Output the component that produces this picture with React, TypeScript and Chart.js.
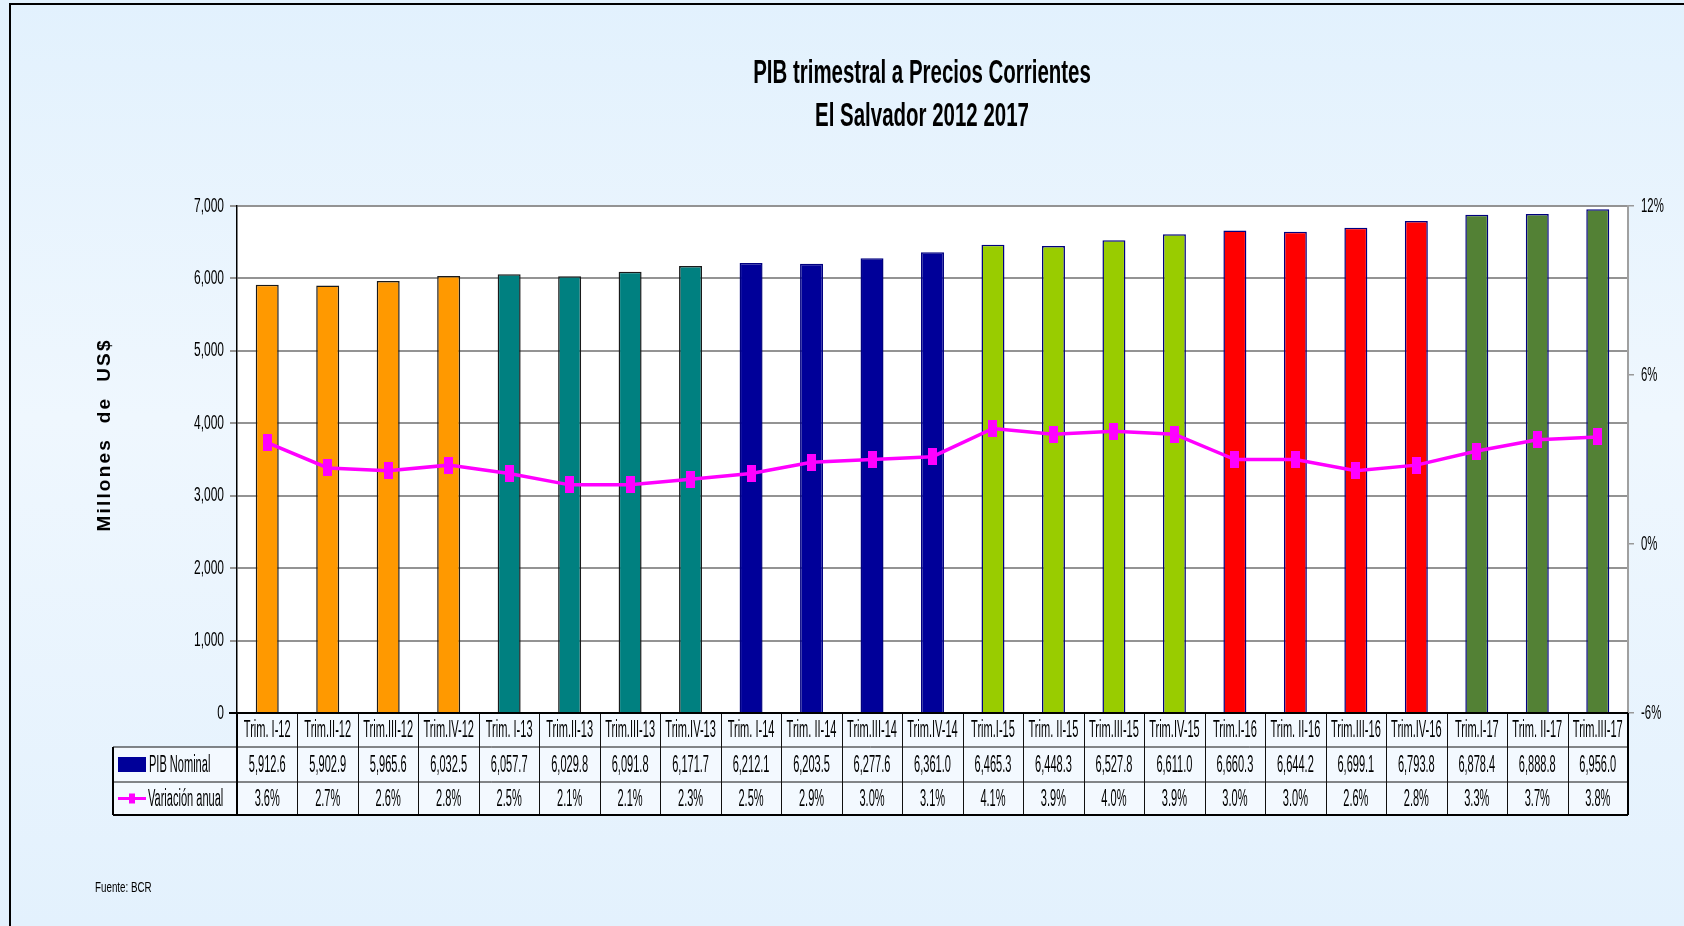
import React, { useEffect, useRef } from "react";
import { Chart, registerables } from "chart.js";

Chart.register(...registerables);

const categories = [
  "Trim. I-12", "Trim.II-12", "Trim.III-12", "Trim.IV-12",
  "Trim. I-13", "Trim.II-13", "Trim.III-13", "Trim.IV-13",
  "Trim. I-14", "Trim. II-14", "Trim.III-14", "Trim.IV-14",
  "Trim.I-15", "Trim. II-15", "Trim.III-15", "Trim.IV-15",
  "Trim.I-16", "Trim. II-16", "Trim.III-16", "Trim.IV-16",
  "Trim.I-17", "Trim. II-17", "Trim.III-17",
];

const pibNominal = [
  5912.6, 5902.9, 5965.6, 6032.5,
  6057.7, 6029.8, 6091.8, 6171.7,
  6212.1, 6203.5, 6277.6, 6361.0,
  6465.3, 6448.3, 6527.8, 6611.0,
  6660.3, 6644.2, 6699.1, 6793.8,
  6878.4, 6888.8, 6956.0,
];

const variacionAnual = [
  3.6, 2.7, 2.6, 2.8,
  2.5, 2.1, 2.1, 2.3,
  2.5, 2.9, 3.0, 3.1,
  4.1, 3.9, 4.0, 3.9,
  3.0, 3.0, 2.6, 2.8,
  3.3, 3.7, 3.8,
];

const years = ["12", "13", "14", "15", "16", "17"];
const yearColors = ["#FF9900", "#008080", "#000099", "#99CC00", "#FF0000", "#538135"];
const yearBorders = ["#1a1a1a", "#1a1a1a", "#000080", "#000080", "#000080", "#000080"];

const leftTicks = { min: 0, max: 7000, step: 1000 };
const rightTicks = { min: -6, max: 12, step: 6 };

const titleLines = ["PIB trimestral a Precios Corrientes", "El Salvador 2012 2017"];
const yAxisTitle = "Millones  de  US$";
const sourceText = "Fuente: BCR";
const seriesNames = ["PIB Nominal", "Variación anual"];

const FONT = '"Liberation Sans", Arial, sans-serif';

function yearIndex(label: string) {
  const y = label.slice(-2);
  return years.indexOf(y);
}

function drawText(
  ctx: CanvasRenderingContext2D,
  s: string,
  x: number,
  y: number,
  size: number,
  sx: number,
  align: CanvasTextAlign = "center",
  bold = false,
  baseline: CanvasTextBaseline = "middle",
  color = "#000"
) {
  ctx.save();
  ctx.font = `${bold ? "bold " : ""}${size}px ${FONT}`;
  ctx.textAlign = align;
  ctx.textBaseline = baseline;
  ctx.fillStyle = color;
  ctx.translate(x, y);
  ctx.scale(sx, 1);
  ctx.fillText(s, 0, 0);
  ctx.restore();
}

function makeMarker() {
  const c = document.createElement("canvas");
  c.width = 9;
  c.height = 17;
  const g = c.getContext("2d")!;
  g.fillStyle = "#FF00FF";
  g.fillRect(0, 0, 9, 17);
  return c;
}

export default function App() {
  const ref = useRef<HTMLCanvasElement | null>(null);

  useEffect(() => {
    const canvas = ref.current;
    if (!canvas) return;

    const decor = {
      id: "decor",
      beforeDraw(chart: any) {
        const ctx = chart.ctx as CanvasRenderingContext2D;
        const W = chart.width;
        const H = chart.height;
        const g = ctx.createLinearGradient(0, 0, 0, H);
        g.addColorStop(0, "#E2F1FD");
        g.addColorStop(0.45, "#EFF7FE");
        g.addColorStop(1, "#E3F1FD");
        ctx.save();
        ctx.fillStyle = g;
        ctx.fillRect(0, 0, W, H);
        ctx.strokeStyle = "#000";
        ctx.lineWidth = 2;
        ctx.strokeRect(10, 4, W + 100, H + 100);
        const a = chart.chartArea;
        ctx.fillStyle = "#FFFFFF";
        ctx.fillRect(a.left, a.top, a.right - a.left, a.bottom - a.top);
        ctx.restore();
      },
      afterDraw(chart: any) {
        const ctx = chart.ctx as CanvasRenderingContext2D;
        const a = chart.chartArea;
        const xs = chart.scales.x;
        const ys = chart.scales.y;
        const ys1 = chart.scales.y1;

        // Title
        drawText(ctx, titleLines[0], 922, 83, 33, 0.62, "center", true, "alphabetic");
        drawText(ctx, titleLines[1], 922, 126, 33, 0.62, "center", true, "alphabetic");

        // Left tick labels
        ys.ticks.forEach((t: any) => {
          const y = ys.getPixelForValue(t.value);
          drawText(ctx, Number(t.value).toLocaleString("en-US"), a.left - 13, y, 20, 0.6, "right");
        });
        // Right tick labels
        ys1.ticks.forEach((t: any) => {
          const y = ys1.getPixelForValue(t.value);
          drawText(ctx, `${t.value}%`, a.right + 13, y, 20, 0.57, "left");
        });

        // Y axis title
        ctx.save();
        ctx.translate(105, 436);
        ctx.rotate(-Math.PI / 2);
        ctx.font = `bold 19px ${FONT}`;
        (ctx as any).letterSpacing = "0px";
        const w0 = ctx.measureText(yAxisTitle).width;
        const sp = Math.max(0, (191 - w0) / (yAxisTitle.length - 1));
        (ctx as any).letterSpacing = `${sp}px`;
        ctx.textAlign = "center";
        ctx.textBaseline = "middle";
        ctx.fillStyle = "#000";
        ctx.fillText(yAxisTitle, sp / 2, 0);
        ctx.restore();

        // Data table
        const n = categories.length;
        const cw = (a.right - a.left) / n;
        const r0 = a.bottom;
        const r1 = r0 + 34;
        const r2 = r1 + 35;
        const r3 = r2 + 33;
        const tl = 113;

        ctx.save();
        ctx.fillStyle = "#F3F9FF";
        ctx.fillRect(a.left, r0, a.right - a.left, r3 - r0);
        ctx.fillRect(tl, r1, a.left - tl, r3 - r1);

        ctx.strokeStyle = "#111";
        ctx.lineWidth = 1;
        ctx.beginPath();
        ctx.moveTo(tl, r1); ctx.lineTo(a.right, r1);
        ctx.moveTo(tl, r2); ctx.lineTo(a.right, r2);
        for (let i = 0; i <= n; i++) {
          const x = Math.round(a.left + i * cw) + 0.5;
          ctx.moveTo(x, r0); ctx.lineTo(x, r3);
        }
        ctx.stroke();

        ctx.lineWidth = 2;
        ctx.strokeStyle = "#000";
        ctx.beginPath();
        ctx.moveTo(a.left - 8, r0); ctx.lineTo(a.right, r0);
        ctx.moveTo(tl, r3); ctx.lineTo(a.right, r3);
        ctx.moveTo(tl, r1); ctx.lineTo(tl, r3);
        ctx.moveTo(a.right, r0); ctx.lineTo(a.right, r3);
        ctx.moveTo(a.left, r0); ctx.lineTo(a.left, r3);
        ctx.stroke();
        ctx.restore();

        categories.forEach((c, i) => {
          const cx = xs.getPixelForValue(i);
          drawText(ctx, c, cx, (r0 + r1) / 2 + 1, 23, 0.48, "center");
          drawText(
            ctx,
            pibNominal[i].toLocaleString("en-US", { minimumFractionDigits: 1, maximumFractionDigits: 1 }),
            cx, (r1 + r2) / 2 + 1, 23, 0.48, "center"
          );
          drawText(ctx, `${variacionAnual[i].toFixed(1)}%`, cx, (r2 + r3) / 2 + 1, 23, 0.48, "center");
        });

        // Legend cells
        ctx.save();
        ctx.fillStyle = "#000099";
        ctx.fillRect(118, r1 + 10, 28, 15);
        ctx.fillStyle = "#FF00FF";
        ctx.fillRect(118, (r2 + r3) / 2 - 1.5, 28, 3);
        ctx.fillRect(129, (r2 + r3) / 2 - 5, 6, 10);
        ctx.restore();
        drawText(ctx, seriesNames[0], 149, (r1 + r2) / 2 + 1, 23, 0.48, "left");
        drawText(ctx, seriesNames[1], 148, (r2 + r3) / 2 + 1, 23, 0.48, "left");

        // Source
        drawText(ctx, sourceText, 95, 888, 14, 0.7, "left");
      },
    };

    const chart = new Chart(canvas, {
      type: "bar",
      data: {
        labels: categories,
        datasets: [
          {
            type: "line",
            label: seriesNames[1],
            data: variacionAnual,
            yAxisID: "y1",
            borderColor: "#FF00FF",
            backgroundColor: "#FF00FF",
            borderWidth: 3.5,
            pointStyle: makeMarker() as any,
            pointRadius: 6,
            tension: 0,
            order: 0,
          } as any,
          {
            type: "bar",
            label: seriesNames[0],
            data: pibNominal,
            yAxisID: "y",
            backgroundColor: categories.map((c) => yearColors[yearIndex(c)]),
            borderColor: categories.map((c) => yearBorders[yearIndex(c)]),
            borderWidth: 1.5,
            categoryPercentage: 1,
            barPercentage: 0.38,
            order: 1,
          } as any,
        ],
      },
      options: {
        responsive: false,
        animation: false,
        devicePixelRatio: 1,
        layout: { padding: { top: 206, bottom: 213, left: 0, right: 0 } },
        plugins: {
          legend: { display: false },
          title: { display: false },
          tooltip: { enabled: false },
        },
        scales: {
          x: { display: false, offset: true },
          y: {
            position: "left",
            min: leftTicks.min,
            max: leftTicks.max,
            ticks: { stepSize: leftTicks.step, display: false },
            grid: { color: "#939393", lineWidth: 2, tickLength: 7, tickColor: "#939393" },
            border: { color: "#000", width: 1.5 },
            afterFit: (s: any) => { s.width = 237; },
          },
          y1: {
            position: "right",
            min: rightTicks.min,
            max: rightTicks.max,
            ticks: { stepSize: rightTicks.step, display: false },
            grid: { drawOnChartArea: false, tickLength: 6, tickColor: "#999", lineWidth: 1.5 },
            border: { color: "#A0A0A0", width: 2 },
            afterFit: (s: any) => { s.width = 1684 - 1628; },
          },
        },
      } as any,
      plugins: [decor],
    });

    return () => chart.destroy();
  }, []);

  return (
    <div style={{ position: "fixed", left: 0, top: 0, width: 1684, height: 926 }}>
      <canvas ref={ref} width={1684} height={926} style={{ width: 1684, height: 926, display: "block" }} />
    </div>
  );
}
